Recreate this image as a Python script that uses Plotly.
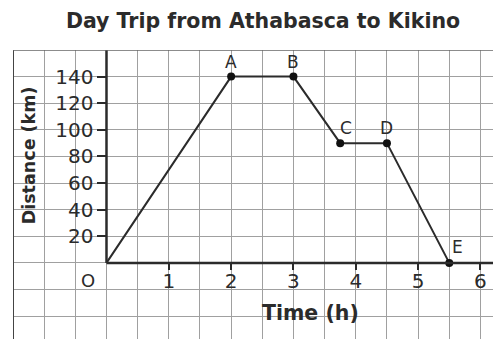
import plotly.graph_objects as go

# trip points
labels = ["O", "A", "B", "C", "D", "E"]
time_h = [0, 2, 3, 3.75, 4.5, 5.5]
dist_km = [0, 140, 140, 90, 90, 0]

x_ticks = [1, 2, 3, 4, 5, 6]
y_ticks = [20, 40, 60, 80, 100, 120, 140]

x_range = [-1.5, 6.33]
y_range = [-57.2, 160]

# the page body has an 8px margin, so the figure is shifted by that much
W, H = 493, 331
ml, mt = 5, 42
# where the axes cross, as paper fractions
px_x0 = (0 - x_range[0]) / (x_range[1] - x_range[0])
px_y0 = (0 - y_range[0]) / (y_range[1] - y_range[0])

ink = "#2b2b2b"
grid = "#a0a0a0"
FONT = "DejaVu Sans"

fig = go.Figure()

fig.add_trace(go.Scatter(
    x=time_h, y=dist_km, mode="lines",
    line=dict(color=ink, width=2),
    xaxis="x2", yaxis="y2", hoverinfo="skip", showlegend=False))
fig.add_trace(go.Scatter(
    x=time_h[1:], y=dist_km[1:], mode="markers",
    marker=dict(color="#111", size=8),
    xaxis="x2", yaxis="y2", showlegend=False))

# point labels
offsets = {"A": (0, 15), "B": (0, 15), "C": (6, 15), "D": (0, 15), "E": (8, 16)}
for lab, t, d in zip(labels, time_h, dist_km):
    if lab == "O":
        continue
    dx, dy = offsets[lab]
    fig.add_annotation(x=t, y=d, xref="x2", yref="y2", text=lab, showarrow=False,
                       xshift=dx, yshift=dy,
                       font=dict(family=FONT, size=17, color=ink))

fig.add_annotation(x=-0.3, y=-13, xref="x", yref="y", text="O", showarrow=False,
                   font=dict(family=FONT, size=18, color=ink))

# axis lines only in the positive direction
fig.add_shape(type="line", x0=0, x1=x_range[1], y0=0, y1=0, xref="x", yref="y",
              line=dict(color=ink, width=2.5))
fig.add_shape(type="line", x0=0, x1=0, y0=0, y1=y_range[1], xref="x", yref="y",
              line=dict(color=ink, width=2.5))
# frame on the grid
fig.add_shape(type="line", x0=x_range[0], x1=x_range[0], y0=y_range[0], y1=y_range[1],
              xref="x", yref="y", line=dict(color="#444", width=2))
fig.add_shape(type="line", x0=x_range[0], x1=x_range[1], y0=y_range[1], y1=y_range[1],
              xref="x", yref="y", line=dict(color="#666", width=1.5))

fig.add_annotation(x=3.28, y=-37.6, xref="x", yref="y", text="<b>Time (h)</b>",
                   showarrow=False, font=dict(family=FONT, size=20.5, color=ink))
fig.add_annotation(x=-1.24, y=81, xref="x", yref="y", text="<b>Distance (km)</b>",
                   textangle=-90, showarrow=False,
                   font=dict(family=FONT, size=17.5, color=ink))

fig.update_layout(
    width=W, height=H,
    margin=dict(l=ml, r=0, t=mt, b=0, autoexpand=False),
    paper_bgcolor="white", plot_bgcolor="white",
    title=dict(text="<b>Day Trip from Athabasca to Kikino</b>",
               x=255 / W, y=1 - 13 / H, xanchor="center", yanchor="middle",
               font=dict(family=FONT, size=20.5, color=ink)),
    xaxis=dict(range=x_range, dtick=0.5, tick0=0, showgrid=True, gridcolor=grid,
               gridwidth=1, showticklabels=False, zeroline=False, showline=False,
               fixedrange=True),
    yaxis=dict(range=y_range, dtick=20, tick0=0, showgrid=True, gridcolor=grid,
               gridwidth=1, showticklabels=False, zeroline=False, showline=False,
               fixedrange=True),
    xaxis2=dict(range=x_range, overlaying="x", anchor="free", position=px_y0,
                side="bottom", tickvals=x_ticks, ticks="outside", ticklen=6,
                tickwidth=1.5, tickcolor=ink, showgrid=False, zeroline=False,
                showline=False, automargin=False, ticklabelstandoff=-6,
                tickfont=dict(family=FONT, size=20, color=ink)),
    yaxis2=dict(range=y_range, overlaying="y", anchor="free", position=px_x0,
                side="left", tickvals=y_ticks, ticks="outside", ticklen=9,
                tickwidth=1.5, tickcolor=ink, showgrid=False, zeroline=False,
                showline=False, automargin=False,
                tickfont=dict(family=FONT, size=20, color=ink)),
)

fig.write_html("out.html")
